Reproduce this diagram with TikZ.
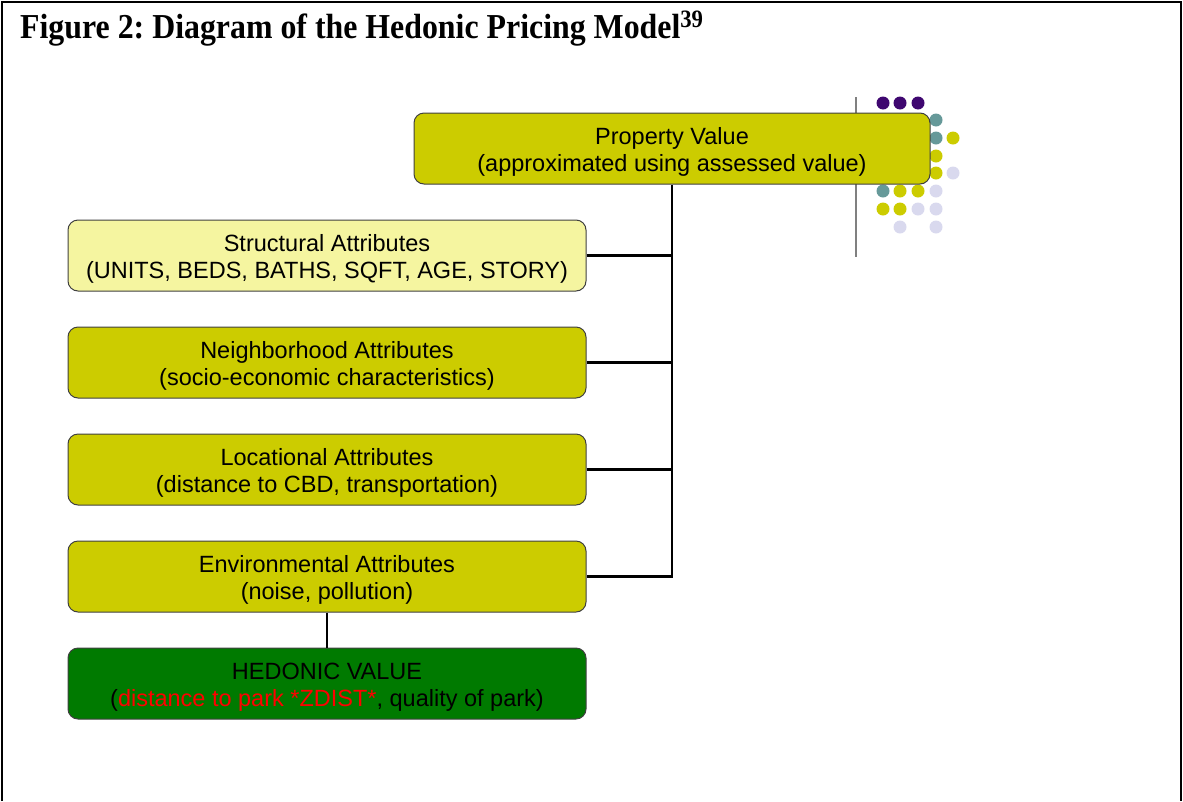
\documentclass[tikz,border=0pt]{standalone}
\usepackage{fontspec}
\setmainfont{Liberation Serif}
\newfontfamily\boxfont{Liberation Sans}
\definecolor{olive}{HTML}{CCCC00}
\definecolor{paleyel}{HTML}{F5F5A0}
\definecolor{hedgreen}{HTML}{007A00}
\definecolor{dpurple}{HTML}{3F0770}
\definecolor{dteal}{HTML}{669999}
\definecolor{dlav}{HTML}{D9D9EE}
\newcommand{\topstrut}{\rule{0pt}{24pt}}
\frenchspacing
\begin{document}
\begin{tikzpicture}[x=1pt,y=-1pt,
  attrbox/.style={draw=black!75, line width=1pt, rounded corners=10pt, minimum width=518pt, minimum height=71pt, align=center, inner sep=0pt, font=\boxfont\fontsize{23.5}{27}\selectfont},
  conn/.style={line width=2.8pt, black},
  dotp/.style={circle, inner sep=0pt, minimum size=13pt},
]
\useasboundingbox (0,0) rectangle (1183,801);
% frame
\draw[line width=2pt] (2,801) -- (2,2) -- (1181,2) -- (1181,801);
% title
\node[anchor=base west, inner sep=0pt, xscale=0.91, transform shape, font=\bfseries\fontsize{35}{38}\selectfont] (title) at (20,38) {Figure 2: Diagram of the Hedonic Pricing Model\raisebox{11pt}{\fontsize{25}{25}\selectfont 39}};
% decoration: gray line and dots
\draw[gray, line width=1.2pt] (856,97) -- (856,257);
\foreach \x/\y/\c in {883/103/dpurple, 900/103/dpurple, 918/103/dpurple,
  936/120/dteal, 936/138/dteal, 953/138/olive, 936/156/olive, 936/173/olive, 953/173/dlav,
  883/191/dteal, 900/191/olive, 918/191/olive, 936/191/dlav,
  883/209/olive, 900/209/olive, 918/209/dlav, 936/209/dlav,
  900/227/dlav, 936/227/dlav}
  \node[dotp, fill=\c] at (\x,\y) {};
% boxes
\node[attrbox, fill=olive, minimum width=516pt] (prop) at (672,148.5) {\topstrut Property Value\\(approximated using assessed value)};
\node[attrbox, fill=paleyel] (struct) at (327,255.5) {\topstrut Structural Attributes\\(UNITS, BEDS, BATHS, SQFT, AGE, STORY)};
\node[attrbox, fill=olive] (neigh) at (327,362.5) {\topstrut Neighborhood Attributes\\(socio-economic characteristics)};
\node[attrbox, fill=olive] (loc) at (327,469.5) {\topstrut Locational Attributes\\(distance to CBD, transportation)};
\node[attrbox, fill=olive] (env) at (327,576.5) {\topstrut Environmental Attributes\\(noise, pollution)};
\node[attrbox, fill=hedgreen] (hed) at (327,683.5) {\topstrut HEDONIC VALUE\\(\textcolor{red}{distance to park *ZDIST*}, quality of park)};
% connectors
\draw[conn] (prop.south) -- (env.east -| prop.south) -- (env.east);
\draw[conn] (struct.east) -- (struct.east -| prop.south);
\draw[conn] (neigh.east) -- (neigh.east -| prop.south);
\draw[conn] (loc.east) -- (loc.east -| prop.south);
\draw[conn] (env.south) -- (hed.north);
\end{tikzpicture}
\end{document}
